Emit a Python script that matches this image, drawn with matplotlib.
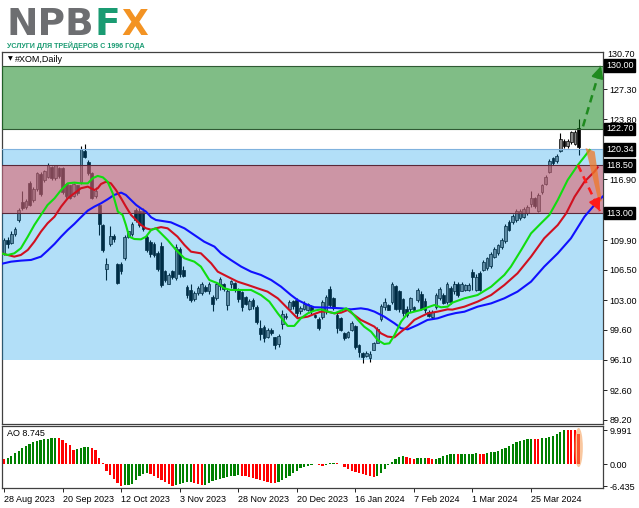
import matplotlib
matplotlib.use("Agg")
import matplotlib.pyplot as plt
from matplotlib.patches import Ellipse, Polygon
from matplotlib.transforms import blended_transform_factory

plt.rcParams['font.family'] = ['Liberation Sans', 'DejaVu Sans']

# ---------------- data ----------------
date_labels = ["28 Aug 2023", "20 Sep 2023", "12 Oct 2023", "3 Nov 2023", "28 Nov 2023",
               "20 Dec 2023", "16 Jan 2024", "7 Feb 2024", "1 Mar 2024", "25 Mar 2024"]
date_label_bars = [0, 16, 32, 48, 64, 80, 96, 112, 128, 144]

opens = [108.4, 109.9, 109.6, 110.6, 112.2, 114.3, 113.7, 116.5, 114.5, 115.8,
         117.5, 116.8, 117.2, 118.3, 117.0, 118.2, 118.2, 116.4, 116.2, 115.0,
         116.2, 116.6, 120.2, 118.9, 117.6, 115.0, 114.0, 111.6, 106.6, 109.5,
         110.4, 107.1, 107.2, 107.8, 110.3, 110.6, 113.4, 113.2, 113.2, 110.3,
         109.7, 109.5, 108.4, 109.2, 106.3, 104.9, 106.3, 105.5, 108.9, 106.5,
         104.5, 104.2, 103.1, 103.8, 103.8, 104.5, 104.0, 103.4, 103.2, 104.6,
         104.9, 102.4, 104.8, 105.0, 104.2, 103.9, 103.4, 102.0, 103.0, 102.2,
         99.8, 99.9, 98.7, 99.6, 98.7, 97.9, 100.2, 101.0, 102.0, 102.9,
         103.0, 101.7, 102.0, 101.9, 102.2, 101.3, 100.8, 101.0, 101.7, 104.3,
         103.2, 101.3, 100.9, 99.2, 98.8, 99.6, 100.0, 97.8, 96.9, 96.6,
         96.3, 97.3, 98.1, 100.8, 102.2, 102.4, 102.8, 104.6, 104.1, 103.1,
         102.0, 102.0, 102.2, 103.0, 103.7, 102.9, 101.6, 101.1, 102.2, 103.2,
         103.6, 102.8, 104.4, 104.0, 104.8, 104.1, 104.2, 104.2, 106.2, 104.2,
         106.1, 106.5, 106.7, 106.9, 108.0, 108.4, 109.1, 109.8, 112.0, 112.0,
         112.2, 112.4, 112.6, 113.0, 114.1, 114.7, 113.3, 115.4, 116.4, 117.8,
         119.4, 119.0, 120.2, 121.3, 120.7, 121.2, 121.0, 122.8]
highs = [110.1, 110.3, 110.9, 111.4, 113.6, 115.6, 114.6, 116.7, 116.0, 117.8,
         117.8, 118.0, 118.8, 118.4, 118.6, 118.3, 118.3, 116.5, 116.3, 116.5,
         116.3, 120.7, 121.0, 119.1, 117.8, 116.0, 114.2, 111.8, 107.8, 111.5,
         110.6, 107.3, 107.4, 110.5, 111.0, 112.0, 113.6, 113.6, 113.6, 110.5,
         109.9, 109.7, 108.6, 109.7, 106.5, 106.1, 106.5, 109.4, 109.1, 106.9,
         104.7, 104.9, 104.0, 104.6, 105.1, 104.7, 105.1, 103.6, 105.1, 105.7,
         105.0, 104.3, 105.3, 105.1, 104.4, 104.1, 103.5, 103.1, 103.2, 102.4,
         100.7, 100.1, 99.8, 99.8, 98.8, 99.1, 101.8, 101.5, 103.0, 103.0,
         103.2, 102.3, 102.9, 102.7, 102.4, 101.4, 101.0, 103.0, 103.6, 104.6,
         103.4, 101.5, 101.0, 99.3, 99.4, 100.6, 100.1, 97.9, 97.0, 97.1,
         97.1, 98.2, 99.9, 102.6, 103.2, 102.6, 105.1, 104.7, 104.2, 103.2,
         102.3, 103.4, 102.3, 104.4, 104.0, 103.2, 101.8, 101.9, 103.8, 104.5,
         103.8, 105.1, 104.6, 105.2, 105.1, 105.1, 104.9, 105.0, 106.6, 106.0,
         106.3, 107.6, 108.0, 108.5, 109.1, 109.5, 110.1, 111.8, 112.2, 112.9,
         113.5, 113.5, 113.7, 113.9, 115.6, 114.9, 115.3, 116.4, 117.4, 119.2,
         119.5, 119.8, 122.2, 121.5, 121.5, 122.5, 122.6, 123.8]
lows = [108.2, 109.0, 109.5, 110.4, 112.0, 113.4, 113.5, 113.8, 114.3, 115.6,
        115.0, 116.6, 117.0, 116.8, 116.8, 117.1, 115.2, 114.8, 114.6, 114.9,
        115.1, 116.4, 119.3, 117.4, 114.6, 114.7, 110.5, 108.5, 105.3, 109.2,
        109.7, 104.8, 106.0, 107.6, 110.1, 110.4, 112.0, 111.4, 110.9, 108.5,
        108.0, 107.9, 106.4, 104.5, 105.1, 104.8, 105.4, 105.3, 105.7, 105.6,
        103.2, 102.8, 102.9, 103.6, 103.6, 103.9, 103.7, 101.7, 103.0, 104.2,
        104.1, 101.9, 104.4, 103.9, 102.8, 101.7, 102.4, 101.8, 102.0, 100.3,
        98.4, 98.2, 98.6, 99.0, 97.4, 97.6, 99.7, 100.8, 101.8, 102.0,
        101.1, 101.4, 101.8, 101.7, 101.4, 100.9, 99.5, 100.8, 101.4, 102.2,
        101.9, 99.2, 99.4, 98.4, 98.6, 99.4, 97.4, 96.4, 95.7, 96.4,
        95.9, 97.2, 98.0, 100.6, 101.9, 101.8, 102.6, 101.8, 101.6, 101.2,
        101.0, 101.6, 101.7, 102.8, 101.8, 101.5, 101.0, 100.8, 102.0, 103.0,
        102.5, 102.6, 102.6, 103.7, 103.4, 104.0, 104.0, 104.0, 104.2, 104.0,
        104.0, 106.3, 106.5, 106.7, 107.8, 108.2, 108.9, 109.6, 110.9, 111.8,
        112.0, 112.2, 112.4, 112.8, 113.7, 113.6, 113.1, 115.2, 116.2, 117.6,
        118.6, 118.8, 120.0, 120.5, 120.5, 121.0, 120.8, 119.7]
closes = [109.9, 109.4, 110.6, 111.2, 113.4, 113.6, 114.4, 114.0, 115.8, 117.6,
          115.2, 117.9, 118.6, 117.0, 118.5, 117.3, 115.4, 115.0, 114.8, 116.4,
          115.3, 120.4, 119.5, 117.6, 114.8, 115.6, 111.7, 108.8, 107.2, 110.4,
          110.0, 105.0, 106.3, 110.3, 110.9, 111.8, 112.2, 111.6, 111.2, 108.8,
          108.3, 108.2, 106.6, 104.7, 105.3, 105.9, 105.6, 109.1, 106.0, 105.8,
          103.6, 103.0, 103.8, 104.4, 104.9, 104.1, 104.8, 102.6, 104.8, 105.4,
          104.3, 104.1, 105.2, 104.3, 103.1, 102.2, 102.6, 102.9, 102.3, 100.5,
          99.1, 98.6, 99.6, 99.2, 97.8, 98.9, 101.4, 101.2, 102.8, 102.3,
          101.5, 102.1, 102.6, 102.5, 101.7, 101.1, 99.8, 102.8, 103.4, 102.4,
          102.1, 99.8, 99.6, 98.6, 99.3, 100.4, 97.6, 97.0, 96.5, 96.9,
          96.8, 98.1, 99.7, 102.3, 102.8, 101.9, 104.8, 102.0, 102.0, 101.5,
          101.3, 103.2, 101.9, 104.2, 102.0, 101.8, 101.2, 101.6, 103.6, 104.3,
          102.7, 104.8, 102.8, 104.9, 103.6, 104.9, 104.7, 104.7, 105.6, 105.7,
          104.2, 107.4, 107.8, 108.3, 108.9, 109.3, 109.9, 111.5, 111.1, 112.7,
          113.3, 113.3, 113.5, 113.7, 114.7, 113.8, 115.1, 116.2, 117.2, 119.0,
          118.8, 119.6, 121.5, 120.7, 121.3, 122.3, 122.4, 120.6]

# Alligator lines (bar position, value)
lips_bars = [-0.8, 1.0, 2.8, 4.6, 6.5, 8.3, 10.1, 11.9, 13.8, 15.6, 17.4, 19.2, 21.0, 22.9,
             24.2, 25.6, 27.0, 28.3, 29.7, 31.1, 32.4, 33.3, 34.2, 35.6, 37.4, 38.8, 40.2,
             41.5, 42.9, 44.7, 47.0, 49.3, 52.0, 53.8, 56.1, 58.4, 60.2, 62.0, 64.8, 67.5,
             70.2, 72.5, 74.8, 77.5, 79.3, 81.1, 83.0, 84.8, 86.6, 88.4, 90.3, 92.1, 93.5,
             94.8, 96.7, 98.4, 100.3, 102.1, 103.9, 105.3, 106.7, 108.5, 110.3, 112.1,
             113.9, 115.8, 117.6, 119.4, 121.2, 122.5, 125.8, 129.4, 133.1, 136.7, 138.5,
             141.3, 144.0, 146.7, 149.0, 151.3, 154.0, 156.8, 158.6, 160.0]
lips_vals = [108.38, 108.19, 108.38, 108.96, 110.30, 111.65, 112.80, 113.95, 114.71, 115.67,
             116.44, 116.52, 116.44, 116.44, 117.02, 117.29, 117.13, 116.63, 115.29, 113.18,
             112.80, 111.65, 110.30, 110.03, 109.99, 110.30, 111.07, 111.26, 110.68, 109.92,
             108.77, 107.81, 107.42, 106.85, 105.31, 104.93, 104.35, 104.16, 104.16, 104.16,
             103.58, 102.82, 101.47, 100.02, 100.02, 100.90, 101.47, 101.78, 101.93, 101.67,
             101.47, 101.78, 102.05, 101.67, 100.71, 99.94, 99.36, 98.40, 97.94, 98.02,
             98.98, 100.52, 101.47, 101.67, 101.86, 102.17, 102.43, 102.17, 102.24, 102.70,
             103.20, 103.58, 104.54, 105.89, 106.85, 108.76, 110.68, 111.83, 112.79, 114.52,
             116.82, 118.55, 119.51, 120.28]

teeth_bars = [-0.8, 1.0, 2.8, 4.6, 6.5, 8.3, 10.1, 11.9, 13.8, 15.6, 17.4, 19.2, 21.0, 22.9,
              24.7, 25.6, 26.5, 27.9, 29.2, 30.6, 32.0, 33.3, 34.7, 36.1, 37.4, 38.8, 40.2,
              41.5, 42.9, 44.7, 47.4, 49.3, 51.1, 53.8, 56.6, 58.4, 61.1, 63.8, 66.6, 69.3,
              72.0, 74.8, 77.5, 80.2, 83.0, 84.8, 86.6, 88.4, 90.3, 92.1, 93.9, 95.7, 97.5,
              99.4, 101.2, 103.0, 104.8, 106.7, 108.5, 110.3, 112.1, 113.9, 115.8, 118.5,
              121.2, 122.5, 125.8, 129.4, 133.1, 136.7, 140.3, 144.0, 147.6, 151.3, 153.6,
              155.9, 158.6, 161.3, 162.2]
teeth_vals = [108.38, 108.19, 108.00, 108.19, 108.77, 109.73, 110.88, 111.84, 112.60, 113.76,
              114.71, 115.29, 115.87, 116.06, 115.67, 115.87, 116.36, 116.63, 116.44, 115.67,
              114.71, 113.76, 112.80, 112.22, 111.65, 111.26, 111.10, 111.26, 111.40, 111.26,
              110.30, 109.34, 108.57, 108.38, 107.23, 106.27, 105.69, 105.12, 104.74, 104.35,
              103.97, 103.20, 102.05, 100.90, 101.09, 101.40, 101.67, 101.67, 101.47, 101.55,
              101.86, 101.28, 100.71, 100.32, 99.94, 99.17, 98.79, 98.71, 99.36, 99.94,
              100.71, 101.09, 101.47, 101.67, 101.93, 101.90, 102.24, 102.82, 103.58, 104.73,
              106.08, 108.00, 110.11, 111.64, 112.98, 114.90, 116.63, 117.78, 118.28]

jaw_bars = [-0.8, 1.9, 4.6, 7.4, 10.1, 11.9, 13.8, 15.6, 17.4, 19.2, 21.0, 22.9, 24.7, 26.5,
            28.3, 30.1, 32.0, 33.3, 34.7, 36.1, 37.4, 38.8, 40.2, 41.5, 45.6, 49.3, 52.0,
            54.7, 57.5, 59.3, 62.0, 64.8, 67.5, 70.2, 73.0, 75.7, 78.4, 80.2, 83.0, 84.8,
            88.4, 92.1, 94.8, 97.5, 99.4, 101.2, 103.9, 106.7, 108.5, 110.3, 113.0, 115.7,
            118.5, 121.2, 123.4, 125.8, 129.4, 133.1, 136.7, 140.3, 144.0, 147.6, 151.3,
            154.9, 158.6, 161.3, 163.1, 165.0]
jaw_vals = [107.16, 107.42, 107.54, 107.62, 108.00, 108.69, 109.46, 110.30, 111.07, 111.76,
            112.53, 113.30, 113.76, 114.14, 114.60, 115.10, 115.37, 115.10, 114.52, 113.95,
            113.56, 113.18, 112.53, 112.22, 111.95, 111.26, 110.49, 109.72, 109.15, 108.38,
            107.61, 106.85, 106.27, 105.89, 105.31, 104.54, 103.58, 103.01, 102.43, 102.17,
            102.13, 102.05, 101.93, 102.05, 101.93, 101.67, 101.09, 100.32, 99.75, 99.63,
            100.13, 100.71, 100.90, 101.28, 101.50, 101.66, 102.24, 102.62, 103.20, 103.97,
            105.12, 106.85, 108.38, 110.11, 112.60, 113.94, 114.71, 115.50]

ao_vals = [1.6, 1.7, 2.4, 3.2, 4.0, 4.7, 5.3, 5.9, 6.4, 6.8,
           7.0, 7.3, 7.5, 7.6, 7.7, 7.6, 7.0, 6.3, 5.6, 4.3,
           4.5, 4.8, 5.0, 5.1, 4.9, 4.2, 1.8, 0.3, -1.9, -3.1,
           -4.4, -5.5, -6.435, -6.1, -6.0, -5.8, -4.6, -3.4, -2.8, -2.6,
           -2.7, -3.3, -3.9, -4.5, -5.1, -5.6, -6.2, -6.0, -5.6, -5.3,
           -5.1, -5.05, -5.3, -5.7, -6.1, -5.9, -5.5, -5.0, -4.6, -4.3,
           -4.0, -3.7, -3.5, -3.3, -3.2, -3.3, -3.5, -3.8, -4.1, -4.4,
           -4.7, -5.0, -5.2, -5.4, -5.5, -5.2, -4.7, -4.0, -3.3, -2.6,
           -1.9, -1.2, -0.8, -0.5, -0.2, 0.1, -0.2, -0.4, -0.1, 0.3,
           0.5, 0.4, 0.2, -0.9, -1.5, -2.0, -2.3, -2.6, -2.9, -3.2,
           -3.5, -3.8, -3.3, -2.4, -1.4, -0.3, 0.8, 1.6, 2.2, 2.5,
           2.2, 1.9, 1.6, 1.7, 1.75, 1.8, 1.7, 1.5, 1.6, 1.9,
           2.4, 2.8, 2.9, 3.0, 2.9, 3.0, 3.05, 3.1, 3.15, 3.2,
           3.1, 3.0, 3.4, 3.5, 3.7, 4.0, 4.4, 4.8, 5.2, 5.8,
           6.5, 6.9, 7.1, 7.3, 7.5, 7.45, 7.4, 7.55, 7.8, 8.1,
           8.4, 8.8, 9.3, 9.991, 9.96, 9.93, 9.9, 8.745]

# zones: (low, high)
zone_green = (122.70, 130.00)
zone_blue = (96.10, 120.34)
zone_pink = (113.00, 118.50)
boxed_levels = [130.00, 122.70, 120.34, 118.50, 113.00]
price_ticks = [127.30, 123.80, 116.90, 109.90, 106.50, 103.00, 99.60, 96.10, 92.60, 89.20]
top_price_tick = 130.70
ao_ticks = [9.991, 0.0, -6.435]
ao_tick_labels = ["9.991", "0.00", "-6.435"]

# forecast annotations (bar, price)
up_arrow = ((158.2, 123.0), (163.1, 129.95))
down_arrow = ((156.8, 118.55), (162.8, 113.25))
orange_wedge = [(158.9, 120.5), (161.4, 120.1), (163.3, 114.4), (162.5, 114.3)]

# ---------------- figure ----------------
W, H = 639, 508
fig = plt.figure(figsize=(W / 100, H / 100), dpi=100)


def fx(px):
    return px / W


def fy(py):
    return 1 - py / H


ax = fig.add_axes([fx(2), fy(424), fx(603) - fx(2), fy(52) - fy(424)])
ax2 = fig.add_axes([fx(2), fy(488), fx(603) - fx(2), fy(426) - fy(488)], sharex=ax)

n = len(closes)
xs = list(range(n))

# candles
for i in xs:
    o, h, l, c = opens[i], highs[i], lows[i], closes[i]
    ax.vlines(i, l, h, color='black', lw=0.8, zorder=2)
    bull = c >= o
    ax.bar(i, c - o if abs(c - o) > 0.02 else 0.04, bottom=o, width=0.74,
           color='#868686' if bull else 'black', edgecolor='black', lw=0.5, zorder=2.1)

# zones (translucent overlays)
ax.axhspan(*zone_blue, color=(0.0, 0.59, 0.91), alpha=0.30, lw=0, zorder=3)
ax.axhspan(*zone_pink, color=(0.89, 0.35, 0.38), alpha=0.55, lw=0, zorder=3.1)
ax.axhspan(*zone_green, color=(0.01, 0.49, 0.06), alpha=0.50, lw=0, zorder=3)
ax.axhline(zone_blue[1], color='#7fb2de', lw=0.8, zorder=3.2)
for lev in zone_pink:
    ax.axhline(lev, color='#5a2838', lw=0.8, zorder=3.2)
for lev in zone_green:
    ax.axhline(lev, color='#2f5a33', lw=0.8, zorder=3.2)

# alligator
ax.plot(jaw_bars, jaw_vals, color='#1010ff', lw=1.5, zorder=4)
ax.plot(teeth_bars, teeth_vals, color='#d01020', lw=1.5, zorder=4.1)
ax.plot(lips_bars, lips_vals, color='#10dd10', lw=1.5, zorder=4.2)

# forecast arrows
ax.add_patch(Polygon(orange_wedge, closed=True, facecolor='#f07828', edgecolor='none',
                     alpha=0.75, zorder=5))
for (p0, p1), col in ((up_arrow, '#1f8a1f'), (down_arrow, '#ff1a1a')):
    ax.plot([p0[0], p1[0]], [p0[1], p1[1]], color=col, lw=1.8, ls=(0, (3, 2)), zorder=5.1)
    t = 0.9
    back = (p0[0] + (p1[0] - p0[0]) * t, p0[1] + (p1[1] - p0[1]) * t)
    ax.annotate('', xy=p1, xytext=back,
                arrowprops=dict(arrowstyle='-|>,head_length=0.7,head_width=0.35',
                                color=col, lw=1.5, shrinkA=0, shrinkB=0), zorder=5.2)

ax.set_xlim(-0.55, 163.66)
ax.set_ylim(88.73, 131.56)

for a in (ax, ax2):
    for s in a.spines.values():
        s.set_color('#404040')
        s.set_linewidth(0.9)
    a.set_facecolor('white')

ax.yaxis.tick_right()
ax.set_yticks(price_ticks + [top_price_tick])
ax.set_yticklabels([f"{v:.2f}" for v in price_ticks] + [""])
ax.tick_params(axis='y', length=3, width=0.6, labelsize=6.5, pad=1.5, colors='black')
ax.tick_params(axis='x', length=0, labelbottom=False)

trans = blended_transform_factory(fig.transFigure, ax.transData)
# the top tick label sits just above the 130.00 marker box, partly behind it as in MT4
ax.text(fx(607.5), top_price_tick, f"{top_price_tick:.2f}", transform=trans, ha='left',
        va='bottom', fontsize=6.5, color='black', zorder=9, clip_on=False)
for lev in boxed_levels:
    ax.text(fx(606), lev, f"{lev:.2f}", transform=trans, ha='left', va='center',
            fontsize=6.5, color='white', zorder=10, clip_on=False,
            bbox=dict(boxstyle='square,pad=0.18', fc='black', ec='black'))

ax.text(fx(8), fy(59), "\u25BC", transform=fig.transFigure, fontsize=4.5,
        family='DejaVu Sans', va='center', ha='left')
ax.text(fx(15), fy(59), "#XOM,Daily", transform=fig.transFigure, fontsize=6.5,
        va='center', ha='left')

# AO
ao_colors = []
for i, v in enumerate(ao_vals):
    if i == 0:
        ao_colors.append('#ff0000')
    else:
        ao_colors.append('#008000' if v > ao_vals[i - 1] else '#ff0000')
ax2.bar(xs, ao_vals, width=0.62, color=ao_colors, lw=0, zorder=2)
ax2.add_patch(Ellipse((n - 1, 4.9), width=2.3, height=11.4, facecolor='#f59a50',
                      edgecolor='none', alpha=0.55, zorder=3))
ax2.set_ylim(-6.9, 11.17)
ax2.yaxis.tick_right()
ax2.set_yticks(ao_ticks)
ax2.set_yticklabels(ao_tick_labels)
ax2.tick_params(axis='y', length=3, width=0.6, labelsize=6.5, pad=1.5)
ax2.set_xticks(date_label_bars)
ax2.set_xticklabels(date_labels, ha='left')
ax2.tick_params(axis='x', length=3, width=0.6, labelsize=6.5, pad=2)
ax2.text(fx(7), fy(434), "AO 8.745", transform=fig.transFigure, fontsize=6.5,
         va='center', ha='left')

# logo
fig.text(fx(6), fy(35), "NPB", fontsize=27, fontweight='bold', family='DejaVu Sans',
         color='#6d6e71', ha='left', va='baseline')
fig.text(fx(95), fy(35), "F", fontsize=27, fontweight='bold', family='DejaVu Sans',
         color='#1a9b72', ha='left', va='baseline')
fig.text(fx(121), fy(35), "X", fontsize=25, fontweight='bold', family='DejaVu Sans',
         color='#f39323', ha='left', va='baseline')
sub = fig.text(fx(7), fy(48), "УСЛУГИ ДЛЯ ТРЕЙДЕРОВ С 1996 ГОДА", fontsize=7,
               fontweight='bold', color='#1a9b72', ha='left', va='baseline',
               family=['Liberation Sans Narrow', 'Liberation Sans', 'DejaVu Sans'])
fig.canvas.draw()
bb = sub.get_window_extent(renderer=fig.canvas.get_renderer())
sub.set_fontsize(7 * 140.0 / bb.width)

fig.savefig("out.png", dpi=100)
